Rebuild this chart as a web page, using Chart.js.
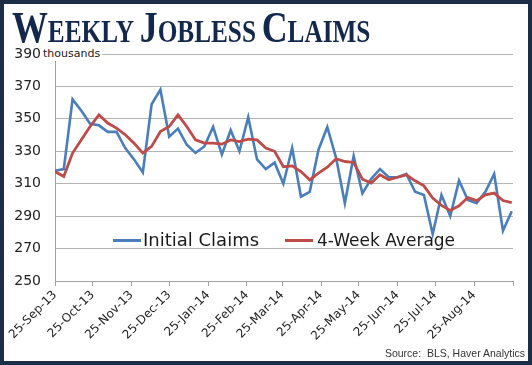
<!DOCTYPE html>
<html><head><meta charset="utf-8">
<script src="https://cdn.jsdelivr.net/npm/chart.js@4"></script>
<style>
html,body{margin:0;padding:0;background:#fff;}
#wrap{position:relative;width:532px;height:365px;overflow:hidden;background:#fff;}
#frame{position:absolute;left:0;top:0;width:532px;height:365px;box-sizing:border-box;border:4px solid #1d2c47;pointer-events:none;}
#c{position:absolute;left:0;top:0;}
#title{position:absolute;left:12px;top:6px;font-family:'Liberation Serif',serif;font-weight:bold;font-variant:small-caps;font-size:44px;color:#14284b;line-height:1;white-space:nowrap;transform:scaleX(0.815);transform-origin:0 0;word-spacing:-4px;}
#unit{position:absolute;left:41px;top:47px;font-family:'DejaVu Sans',sans-serif;font-size:11px;color:#222;background:#fff;padding:0 2px 0 2px;line-height:14px;}
.leg{position:absolute;font-family:'DejaVu Sans',sans-serif;font-size:17px;color:#1a1a1a;white-space:nowrap;line-height:20px;}
.legline{position:absolute;height:3px;}
#source{position:absolute;right:7px;top:347px;font-family:'Liberation Sans',sans-serif;font-size:10.5px;color:#333;white-space:pre;}
</style></head>
<body>
<div id="wrap">
<canvas id="c" width="532" height="365"></canvas>
<div id="title">Weekly Jobless Claims</div>
<div id="unit">thousands</div>
<div id="source">Source:  BLS, Haver Analytics</div>
<div id="frame"></div>
</div>
<script>
// Week index of each observation (weekly data beginning 25-Sep-13)
const monthLabels = ['25-Sep-13','25-Oct-13','25-Nov-13','25-Dec-13','25-Jan-14','25-Feb-14','25-Mar-14','25-Apr-14','25-May-14','25-Jun-14','25-Jul-14','25-Aug-14',''];
const monthDays = [0,30,61,91,122,153,181,212,242,273,303,334,365];
const yTicks = [250,270,290,310,330,350,370,390];

const initialClaims = [318,319,362,355,347,346,342,342,332,325,317,359,368,339,344,334,329,333,345,328,343,330,351,325,319,323,310,332,302,305,331,345,326,298,327,304,313,319,314,314,316,305,303,279,303,290,312,300,298,305,316,281,293];
const fourWeekAverage = [317.5,314.4,328.9,337.1,345.3,352.5,347.4,344.3,340.2,335,328.9,333,342.2,345.3,352.5,345.3,337,335,335,334.4,337,336,337.5,337,332,330,320.5,321,317.5,312.4,316.5,320.2,325.4,323.7,323.1,312.8,310.4,315.5,312.4,314,315.5,311.8,308.7,301.1,296.6,293.5,296.4,301.5,299.6,303.1,304.2,299.6,298.4];

const dayOf = i => i * 7;
const toPts = arr => arr.map((v, i) => ({x: dayOf(i), y: v}));

const chart = new Chart(document.getElementById('c'), {
  type: 'line',
  data: {
    datasets: [
      {label: 'Initial Claims', data: toPts(initialClaims), borderColor: '#4a7ebb', borderWidth: 2.6, pointRadius: 0, tension: 0, order: 2},
      {label: '4-Week Average', data: toPts(fourWeekAverage), borderColor: '#be4b48', borderWidth: 2.8, pointRadius: 0, tension: 0, order: 1}
    ]
  },
  options: {
    responsive: false,
    animation: false,
    layout: {padding: {left: 0, top: 54, right: 19, bottom: 0}},
    plugins: {legend: {display: false}, tooltip: {enabled: false}},
    scales: {
      x: {
        type: 'linear', min: 0, max: 365,
        afterBuildTicks: s => { s.ticks = monthDays.map(v => ({value: v})); },
        afterFit: s => { s.height = 84; },
        ticks: {
          autoSkip: false, minRotation: 45, maxRotation: 45, padding: 2,
          color: '#222', font: {family: 'DejaVu Sans', size: 12},
          callback: (v) => { const k = monthDays.indexOf(v); return k >= 0 ? monthLabels[k] : ''; }
        },
        grid: {drawOnChartArea: false, drawTicks: true, tickLength: 5, color: '#a0a0a0'},
        border: {display: true, color: '#a0a0a0', width: 1}
      },
      y: {
        min: 250, max: 390,
        afterBuildTicks: s => { s.ticks = yTicks.map(v => ({value: v})); },
        afterFit: s => { s.width = 55; },
        ticks: {padding: 14, color: '#222', font: {family: 'DejaVu Sans', size: 14}},
        grid: {drawTicks: false, color: '#b4b4b4', lineWidth: 1},
        border: {display: true, color: '#a0a0a0', width: 1}
      }
    }
  }
});

// legend drawn as HTML from the datasets, placed inside the plot area
const legPos = [{line: 113, text: 143, size: 18}, {line: 285, text: 317, size: 17}];
chart.data.datasets.forEach((ds, i) => {
  const wrap = document.getElementById('wrap');
  const ln = document.createElement('div');
  ln.className = 'legline';
  ln.style.left = legPos[i].line + 'px'; ln.style.top = '239px'; ln.style.width = '28px';
  ln.style.background = ds.borderColor;
  const tx = document.createElement('div');
  tx.className = 'leg';
  tx.style.left = legPos[i].text + 'px'; tx.style.top = '230px';
  tx.style.fontSize = legPos[i].size + 'px';
  tx.textContent = ds.label;
  wrap.insertBefore(ln, document.getElementById('frame'));
  wrap.insertBefore(tx, document.getElementById('frame'));
});
</script>
</body></html>
